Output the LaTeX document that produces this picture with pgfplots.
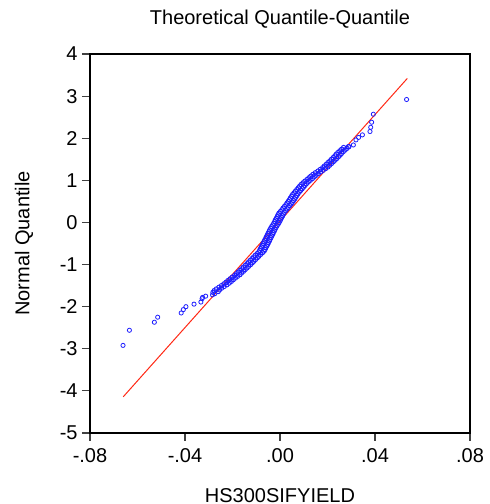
\documentclass[border=0pt]{standalone}
\usepackage{pgfplots}
\pgfplotsset{compat=1.18}
\usepackage{fontspec}
\setmainfont{Liberation Sans}

\definecolor{qqblue}{RGB}{30,30,255}
\definecolor{qqred}{RGB}{255,40,20}

\begin{document}
\begin{tikzpicture}
\path[use as bounding box] (0,0) rectangle (245pt,252pt);
\begin{axis}[
    at={(45pt,35.5pt)}, anchor=south west,
    width=190pt, height=189.5pt, scale only axis,
    xmin=-0.08, xmax=0.08,
    ymin=-5, ymax=4,
    xtick={-0.08,-0.04,0,0.04,0.08},
    xticklabels={-.08,-.04,.00,.04,.08},
    scaled x ticks=false,
    ytick={-5,-4,-3,-2,-1,0,1,2,3,4},
    yticklabels={-5,-4,-3,-2,-1,0,1,2,3,4},
    tick align=outside,
    xtick pos=bottom, ytick pos=left,
    major tick length=4pt,
    tick style={line width=0.6pt, color=black!75},
    axis line style={line width=0.8pt},
    font=\fontsize{10}{12}\selectfont,
    title={Theoretical Quantile-Quantile},
    title style={at={(axis description cs:0.5,1)}, anchor=base, yshift=9pt, inner sep=0pt},
    xlabel={HS300SIFYIELD},
    xlabel style={at={(axis description cs:0.5,0)}, anchor=base, yshift=-34.5pt, inner sep=0pt},
    ylabel={Normal Quantile},
    ylabel style={at={(axis description cs:0,0.5)}, anchor=center, yshift=33pt, inner sep=0pt},
    xticklabel style={anchor=base, inner sep=0pt, yshift=-11pt},
    yticklabel style={anchor=east, inner sep=0pt, xshift=-2pt},
    clip=false,
]
\addplot[qqred, line width=0.5pt] coordinates {(-0.0660,-4.14) (0.0536,3.42)};
% tails
\addplot[only marks, mark=o, mark size=1.05pt, qqblue, mark options={line width=0.4pt}] coordinates {
(-0.0661,-2.92) (-0.0634,-2.56) (-0.0529,-2.37) (-0.0515,-2.25)
(-0.0416,-2.15) (-0.0407,-2.07) (-0.0396,-2.00) (-0.0362,-1.94)
(-0.0333,-1.89) (-0.0328,-1.81) (-0.0326,-1.78) (-0.0313,-1.75)
(-0.0284,-1.72) (-0.0274,-1.69)
(0.0288,1.80) (0.0309,1.84) (0.0320,1.96) (0.0331,2.02) (0.0347,2.08)
(0.0379,2.16) (0.0382,2.26) (0.0386,2.38) (0.0393,2.57)
(0.0533,2.92)
};
% dense middle, left edge of the band
\addplot[only marks, mark=o, mark size=1.1pt, qqblue, mark options={line width=0.45pt}] coordinates {
(-0.0282,-1.66) (-0.0277,-1.62) (-0.0268,-1.58) (-0.0257,-1.54) (-0.0246,-1.50)
(-0.0236,-1.46) (-0.0227,-1.42) (-0.0219,-1.38) (-0.0210,-1.34) (-0.0201,-1.30)
(-0.0191,-1.26) (-0.0184,-1.22) (-0.0176,-1.18) (-0.0169,-1.14) (-0.0161,-1.10)
(-0.0154,-1.06) (-0.0146,-1.02) (-0.0139,-0.98) (-0.0132,-0.94) (-0.0125,-0.90)
(-0.0118,-0.86) (-0.0111,-0.82) (-0.0104,-0.78) (-0.0096,-0.74) (-0.0089,-0.70)
(-0.0085,-0.66) (-0.0082,-0.62) (-0.0078,-0.58) (-0.0074,-0.54) (-0.0071,-0.50)
(-0.0067,-0.46) (-0.0064,-0.42) (-0.0060,-0.38) (-0.0057,-0.34) (-0.0053,-0.30)
(-0.0050,-0.26) (-0.0046,-0.22) (-0.0043,-0.18) (-0.0039,-0.14) (-0.0035,-0.10)
(-0.0030,-0.06) (-0.0026,-0.02) (-0.0022,0.02) (-0.0019,0.06) (-0.0015,0.10)
(-0.0011,0.14) (-0.0008,0.18) (-0.0004,0.22) (0.0002,0.26) (0.0008,0.30)
(0.0013,0.34) (0.0019,0.38) (0.0025,0.42) (0.0030,0.46) (0.0035,0.50)
(0.0040,0.54) (0.0044,0.58) (0.0049,0.62) (0.0053,0.66) (0.0059,0.70)
(0.0065,0.74) (0.0071,0.78) (0.0077,0.82) (0.0083,0.86) (0.0089,0.90)
(0.0097,0.94) (0.0105,0.98) (0.0114,1.02) (0.0122,1.06) (0.0130,1.10)
(0.0139,1.14) (0.0149,1.18) (0.0160,1.22) (0.0170,1.26) (0.0180,1.30)
(0.0187,1.34) (0.0195,1.38) (0.0202,1.42) (0.0210,1.46) (0.0217,1.50)
(0.0224,1.54) (0.0231,1.58) (0.0237,1.62) (0.0244,1.66) (0.0252,1.70)
(0.0260,1.74) (0.0268,1.78)
};
% dense middle, right edge of the band
\addplot[only marks, mark=o, mark size=1.1pt, qqblue, mark options={line width=0.45pt}] coordinates {
(-0.0260,-1.64) (-0.0255,-1.60) (-0.0246,-1.56) (-0.0235,-1.52) (-0.0224,-1.48)
(-0.0214,-1.44) (-0.0205,-1.40) (-0.0197,-1.36) (-0.0188,-1.32) (-0.0179,-1.28)
(-0.0169,-1.24) (-0.0162,-1.20) (-0.0154,-1.16) (-0.0147,-1.12) (-0.0139,-1.08)
(-0.0132,-1.04) (-0.0124,-1.00) (-0.0117,-0.96) (-0.0110,-0.92) (-0.0103,-0.88)
(-0.0096,-0.84) (-0.0089,-0.80) (-0.0082,-0.76) (-0.0074,-0.72) (-0.0067,-0.68)
(-0.0063,-0.64) (-0.0060,-0.60) (-0.0056,-0.56) (-0.0052,-0.52) (-0.0049,-0.48)
(-0.0045,-0.44) (-0.0042,-0.40) (-0.0038,-0.36) (-0.0035,-0.32) (-0.0031,-0.28)
(-0.0028,-0.24) (-0.0024,-0.20) (-0.0021,-0.16) (-0.0017,-0.12) (-0.0013,-0.08)
(-0.0008,-0.04) (-0.0004,0.00) (0.0000,0.04) (0.0003,0.08) (0.0007,0.12)
(0.0011,0.16) (0.0014,0.20) (0.0018,0.24) (0.0024,0.28) (0.0030,0.32)
(0.0035,0.36) (0.0041,0.40) (0.0047,0.44) (0.0052,0.48) (0.0057,0.52)
(0.0062,0.56) (0.0066,0.60) (0.0071,0.64) (0.0075,0.68) (0.0081,0.72)
(0.0087,0.76) (0.0093,0.80) (0.0099,0.84) (0.0105,0.88) (0.0111,0.92)
(0.0119,0.96) (0.0127,1.00) (0.0136,1.04) (0.0144,1.08) (0.0152,1.12)
(0.0161,1.16) (0.0171,1.20) (0.0182,1.24) (0.0192,1.28) (0.0202,1.32)
(0.0209,1.36) (0.0217,1.40) (0.0224,1.44) (0.0232,1.48) (0.0239,1.52)
(0.0246,1.56) (0.0253,1.60) (0.0259,1.64) (0.0266,1.68) (0.0274,1.72)
(0.0282,1.76) (0.0290,1.80)
};
\end{axis}
\end{tikzpicture}
\end{document}
